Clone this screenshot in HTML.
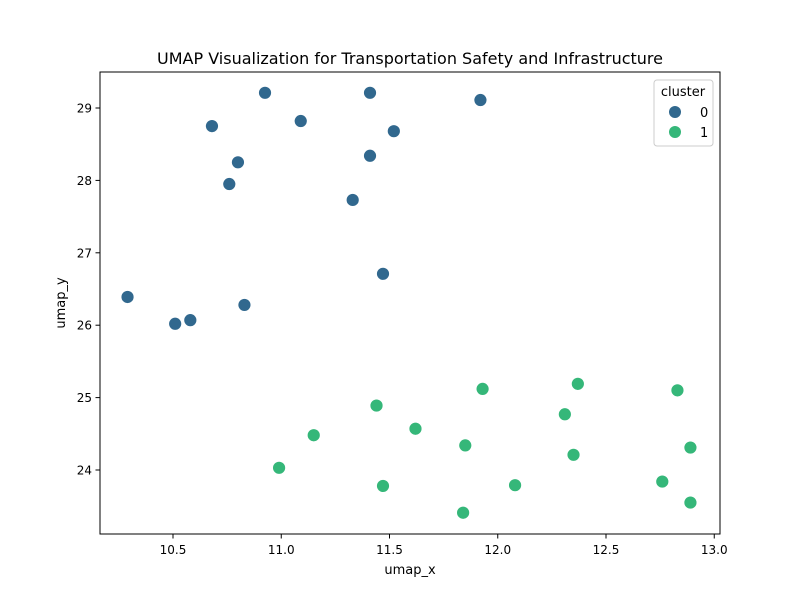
<!DOCTYPE html>
<html><head><meta charset="utf-8"><style>
body{margin:0;background:#fff;font-family:"Liberation Sans","DejaVu Sans",sans-serif;}
svg text{font-family:"DejaVu Sans","Liberation Sans",sans-serif;}
</style></head><body>
<svg id="chart" width="800" height="600" xmlns="http://www.w3.org/2000/svg">
<rect width="800" height="600" fill="#fff"/>
<text x="410" y="64" font-size="16" text-anchor="middle">UMAP Visualization for Transportation Safety and Infrastructure</text>
<g id="plot"></g>
<rect x="100" y="72" width="620" height="462" fill="none" stroke="#000" stroke-width="1"/>
<text x="410" y="574" font-size="13" text-anchor="middle">umap_x</text>
<text x="0" y="0" font-size="13" text-anchor="middle" transform="translate(65,303) rotate(-90)">umap_y</text>
<g>
<rect x="654" y="80" width="59" height="66" rx="3" fill="#fff" fill-opacity="0.8" stroke="#ccc"/>
<text x="683" y="96" font-size="13" text-anchor="middle">cluster</text>
<circle cx="675" cy="112" r="6" fill="#31688e"/>
<text x="700" y="117" font-size="13">0</text>
<circle cx="675" cy="132" r="6" fill="#35b779"/>
<text x="700" y="137" font-size="13">1</text>
</g>
</svg>
<script>
const xTicks=[10.5,11.0,11.5,12.0,12.5,13.0];
const yTicks=[24,25,26,27,28,29];
const c0x=[10.925,11.41,11.92,10.68,11.09,11.52,10.80,11.41,10.76,11.33,11.47,10.29,10.51,10.58,10.83];
const c0y=[29.21,29.21,29.11,28.75,28.82,28.68,28.25,28.34,27.95,27.73,26.71,26.39,26.02,26.07,26.28];
const c1x=[12.37,11.93,12.83,11.44,12.31,11.15,11.62,11.85,12.35,12.89,10.99,11.47,12.08,12.76,11.84,12.89];
const c1y=[25.19,25.12,25.10,24.89,24.77,24.48,24.57,24.34,24.21,24.31,24.03,23.78,23.79,23.84,23.41,23.55];
const sx=v=>173+(v-10.5)*216.5;
const sy=v=>108+(29-v)*72.4;
const NS="http://www.w3.org/2000/svg";
const g=document.getElementById('plot');
function mk(t,a){const e=document.createElementNS(NS,t);for(const k in a)e.setAttribute(k,a[k]);g.appendChild(e);return e;}
xTicks.forEach(t=>{
 const l=mk('line',{x1:sx(t),x2:sx(t),y1:534,y2:538.5,stroke:'#000'});
 
 
 const tx=mk('text',{x:sx(t),y:554,'font-size':12,'text-anchor':'middle'});tx.textContent=t.toFixed(1);
 
 
});
yTicks.forEach(t=>{
 const l=mk('line',{x1:95.5,x2:100,y1:sy(t),y2:sy(t),stroke:'#000'});
 
 
 const tx=mk('text',{x:92,y:sy(t)+4.5,'font-size':12,'text-anchor':'end'});tx.textContent=t;
 
 
});
c0x.forEach((v,i)=>{
 const c=mk('circle',{cx:sx(v),cy:sy(c0y[i]),r:6.5,fill:'#31688e',stroke:'#fff','stroke-width':0.8});
 
 
});
c1x.forEach((v,i)=>{
 const c=mk('circle',{cx:sx(v),cy:sy(c1y[i]),r:6.5,fill:'#35b779',stroke:'#fff','stroke-width':0.8});
 
 
});
</script>
</body></html>
